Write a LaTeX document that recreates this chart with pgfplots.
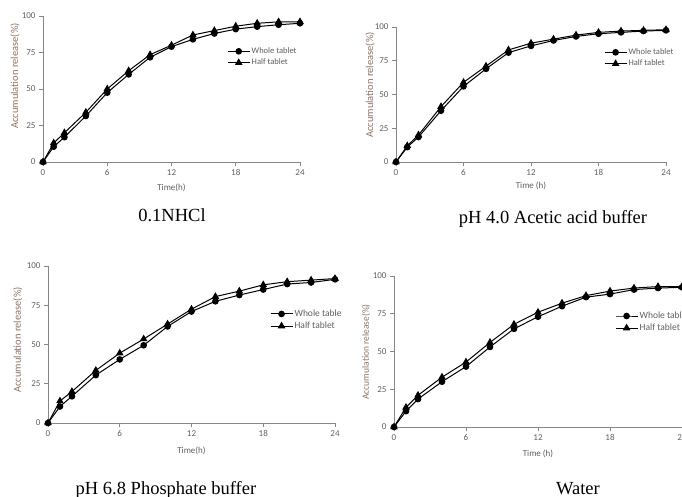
\documentclass[border=0pt]{standalone}
\usepackage{fontspec}
\setmainfont{Carlito}
\newfontfamily\capfont{Liberation Serif}
\usepackage{pgfplots}
\pgfplotsset{compat=1.18}

\definecolor{axgrey}{RGB}{134,134,134}
\definecolor{tickgrey}{RGB}{95,95,95}
\definecolor{labbrown}{RGB}{140,115,100}

\pgfplotsset{
  panel/.style={
    scale only axis,
    xmin=0, xmax=24, ymin=0, ymax=100,
    xtick={0,6,...,24}, ytick={0,25,...,100},
    axis lines*=left,
    axis line style={axgrey, line width=0.8pt},
    tick style={axgrey, line width=0.8pt},
    tick align=outside, major tick length=4pt,
    tick label style={font=\fontsize{9}{10}\selectfont, text=tickgrey},
    /pgf/number format/assume math mode=true,
    xlabel={Time(h)},
    ylabel={Accumulation release(\%)},
    xlabel style={font=\fontsize{9}{10}\selectfont, text=tickgrey,
                  at={(axis description cs:0.5,-0.18)}, anchor=center},
    ylabel style={font=\fontsize{10.5}{12}\selectfont, text=labbrown, anchor=center},
    clip=false,
    legend cell align=left,
    legend style={draw=none, fill=none, anchor=west,
                  font=\fontsize{8.5}{10}\selectfont, text=tickgrey,
                  inner sep=0pt, row sep=1pt,
                  nodes={inner sep=1.5pt}},
    legend image code/.code={%
      \draw[mark repeat=2, mark phase=2, ##1]
        plot coordinates {(0pt,0pt) (11pt,0pt) (22pt,0pt)};},
  },
  whole/.style={black, line width=1pt, mark=*, mark size=2.8pt},
  half/.style={black, line width=1pt, mark=triangle*, mark size=3.4pt},
}

\begin{document}
\begin{tikzpicture}
\path[use as bounding box, clip] (0pt,0pt) rectangle (682pt,497pt);

% 0.1N HCl
\begin{axis}[panel, at={(43pt,335pt)}, anchor=south west, width=257pt, height=146pt,
  ylabel style={at={(axis description cs:-0.109,0.589)}},
  legend style={at={(axis description cs:0.716,0.719)}}]
\addplot[whole] coordinates {(0,0)(1,10.5)(2,17)(4,31.5)(6,47.5)(8,60)(10,71.7)(12,79)(14,84)(16,88)(18,91)(20,92.7)(22,94)(24,95)};
\addplot[half] coordinates {(0,0)(1,13)(2,20)(4,34)(6,50)(8,62.5)(10,73.5)(12,80)(14,87)(16,90)(18,93)(20,95)(22,96)(24,96)};
\legend{Whole tablet, Half tablet}
\end{axis}

% pH 4.0
\begin{axis}[panel, at={(396pt,335pt)}, anchor=south west, width=270pt, height=135pt,
  xlabel={Time (h)},
  ylabel style={at={(axis description cs:-0.096,0.570)}},
  legend style={at={(axis description cs:0.77,0.77)}}]
\addplot[whole] coordinates {(0,0)(1,11)(2,18.5)(4,38)(6,56)(8,69)(10,81)(12,86)(14,90)(16,93)(18,95)(20,96)(22,97)(24,97.5)};
\addplot[half] coordinates {(0,0)(1,12)(2,20)(4,41)(6,59)(8,71)(10,83)(12,88)(14,91)(16,94)(18,96)(20,97)(22,97.5)(24,98)};
\legend{Whole tablet, Half tablet}
\end{axis}

% pH 6.8
\begin{scope}
\clip (0pt,0pt) rectangle (341pt,248pt);
\begin{axis}[panel, at={(48pt,74pt)}, anchor=south west, width=287pt, height=157pt,
  ylabel style={at={(axis description cs:-0.105,0.529)}},
  legend style={at={(axis description cs:0.773,0.656)}, font=\fontsize{9.5}{11}\selectfont}]
\addplot[whole] coordinates {(0,0)(1,10.5)(2,17)(4,30.5)(6,40.5)(8,49.5)(10,61.5)(12,71)(14,77.5)(16,81.5)(18,85)(20,88.5)(22,89.5)(24,91.5)};
\addplot[half] coordinates {(0,0)(1,14)(2,20)(4,33.5)(6,44.5)(8,53.5)(10,63)(12,72.5)(14,80.5)(16,84)(18,88)(20,90)(22,91)(24,92)};
\legend{Whole tablet, Half tablet}
\end{axis}
\end{scope}

% Water
\begin{axis}[panel, at={(394pt,70pt)}, anchor=south west, width=288pt, height=151pt,
  xlabel={Time (h)},
  ylabel style={at={(axis description cs:-0.097,0.497)}, font=\fontsize{9.5}{11}\selectfont},
  legend style={at={(axis description cs:0.767,0.695)}, font=\fontsize{9.5}{11}\selectfont}]
\addplot[whole] coordinates {(0,0)(1,10.5)(2,18.5)(4,30)(6,40)(8,53)(10,65)(12,73)(14,80)(16,86)(18,88)(20,91)(22,92)(24,92.5)};
\addplot[half] coordinates {(0,0)(1,13)(2,21)(4,33)(6,43)(8,56)(10,68)(12,76)(14,82)(16,87)(18,90)(20,92)(22,93)(24,93)};
\legend{Whole tablet, Half tablet}
\end{axis}

\node[anchor=base, font=\capfont\fontsize{18.5}{22}\selectfont] at (172pt,275pt) {0.1NHCl};
\node[anchor=base, font=\capfont\fontsize{18.5}{22}\selectfont] at (553pt,273pt) {pH 4.0 Acetic acid buffer};
\node[anchor=base, font=\capfont\fontsize{18.5}{22}\selectfont] at (166pt,2pt) {pH 6.8 Phosphate buffer};
\node[anchor=base, font=\capfont\fontsize{18.5}{22}\selectfont] at (578pt,2pt) {Water};
\end{tikzpicture}
\end{document}
